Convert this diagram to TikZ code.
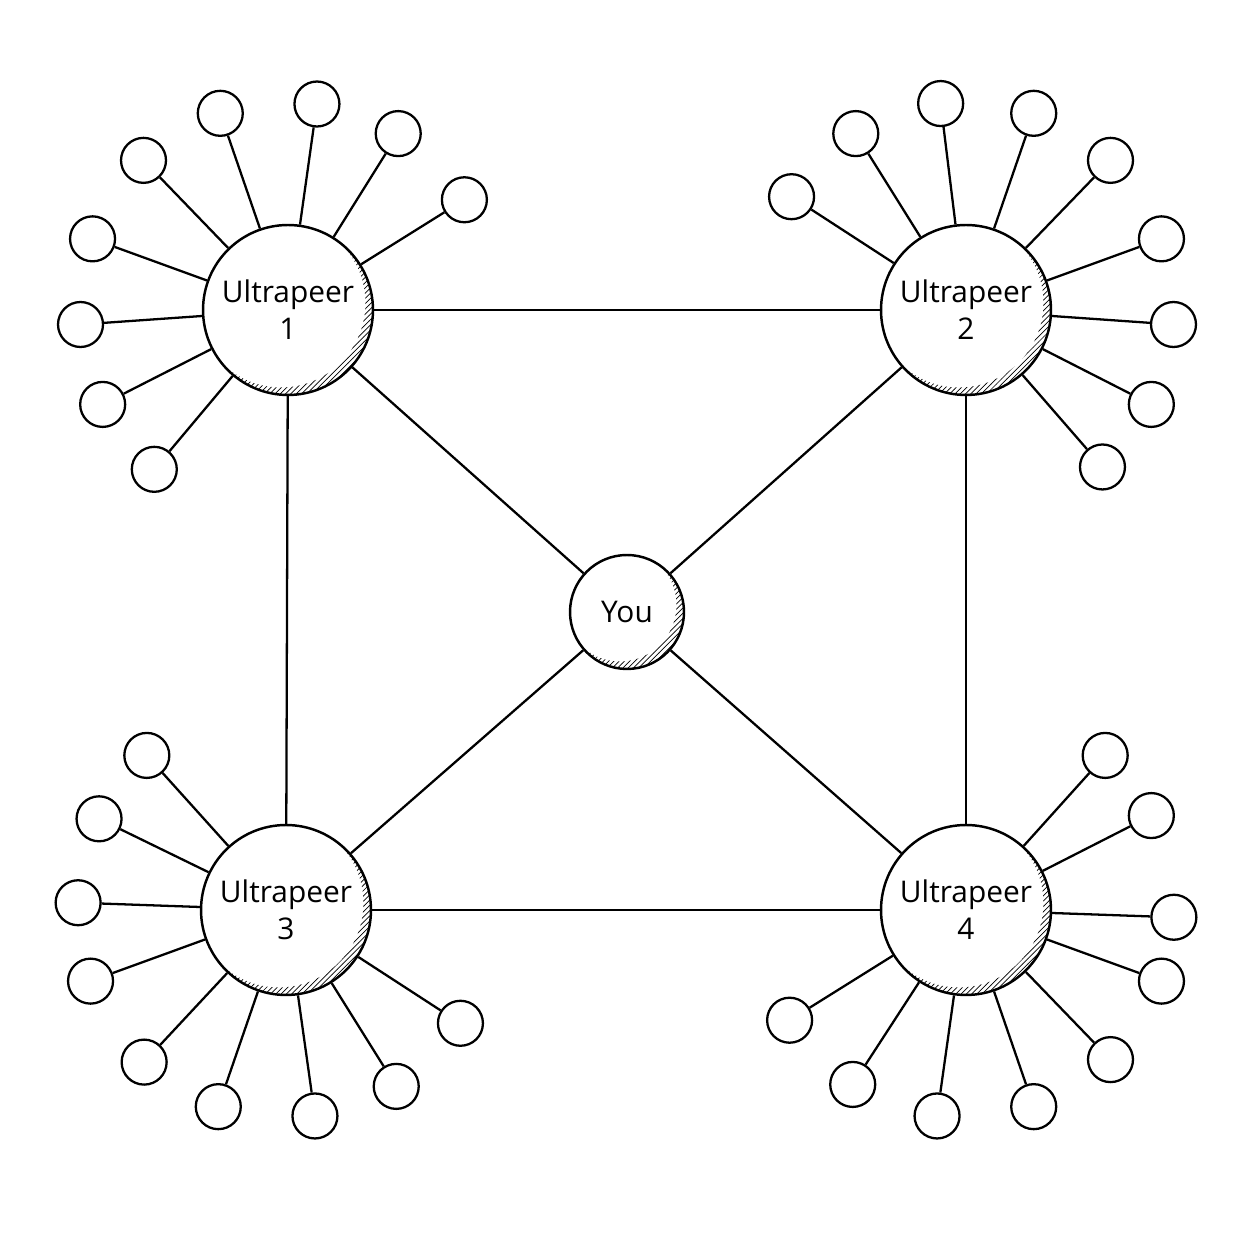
\documentclass[tikz,border=0pt]{standalone}
\usepackage{fontspec}
\setmainfont{Open Sans}
\usetikzlibrary{positioning,patterns}

\tikzset{
  peer/.style={circle,draw,line width=1.4pt,minimum size=3.4cm,inner sep=0pt,align=center,
    font=\fontsize{17}{21}\selectfont},
  you/.style={circle,draw,line width=1.4pt,minimum size=2.28cm,inner sep=0pt,
    font=\fontsize{17}{21}\selectfont},
  leaf/.style={circle,draw,line width=1.3pt,minimum size=0.9cm,inner sep=0pt},
  link/.style={line width=1.3pt}
}

\begin{document}
\begin{tikzpicture}[x=0.02cm,y=0.02cm]
\useasboundingbox (0,0) rectangle (1254,1254);
\node[peer] (u1) at (288,944) {Ultrapeer\\1};
\node[peer] (u2) at (966,944) {Ultrapeer\\2};
\node[peer] (u3) at (286,344) {Ultrapeer\\3};
\node[peer] (u4) at (966,344) {Ultrapeer\\4};
\node[you] (you) at (627,642) {You};
% shading on the lower right rim
\foreach \u/\r in {u1/1.69cm,u2/1.69cm,u3/1.69cm,u4/1.69cm,you/1.13cm} {
  \begin{scope}
    \clip (\u.center) circle[radius=\r];
    \fill[pattern=north east lines,even odd rule]
      (\u.center) circle[radius=\r] ([shift={(-7,7)}]\u.center) circle[radius=\r];
  \end{scope}
}
\draw[link] (u1) -- (u2);
\draw[link] (u3) -- (u4);
\draw[link] (u1) -- (u3);
\draw[link] (u2) -- (u4);
\foreach \u in {u1,u2,u3,u4} \draw[link] (you) -- (\u);
% leaves
\foreach \u/\list in {u1/{32,58,82,109,134,160,184,207,230},
                      u2/{147,122,97,71,46,20,-4,-27,-49},
                      u3/{132,154,178,200,227,251,278,302,327},
                      u4/{48,27,-2,-20,-46,-71,-98,-123,-148}} {
  \foreach \a [count=\i] in \list {
    \node[leaf] (\u l\i) at ([shift={(\a:208)}]\u.center) {};
    \draw[link] (\u) -- (\u l\i);
  }
}
\end{tikzpicture}
\end{document}
